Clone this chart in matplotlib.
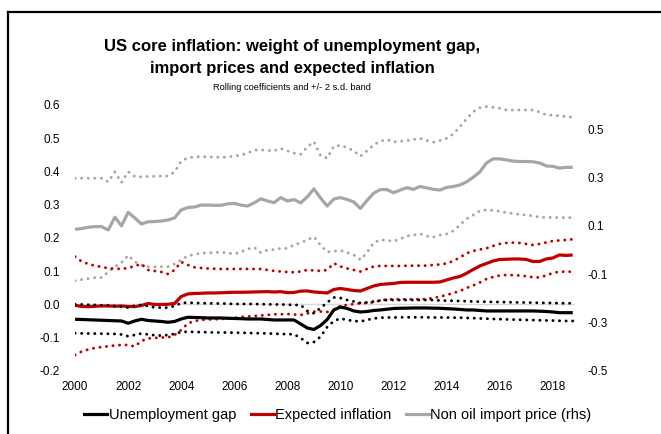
import numpy as np
import pandas as pd
import matplotlib
matplotlib.use("Agg")
import matplotlib.pyplot as plt
from matplotlib.lines import Line2D

plt.rcParams["font.family"] = ["Liberation Sans", "DejaVu Sans"]

# Quarterly observations, 2000Q1 - 2018Q4
quarters = pd.period_range("2000Q1", "2018Q4", freq="Q")
dates = quarters.year + (quarters.quarter - 1) / 4

# Unemployment gap coefficient and +/- 2 s.d. band (lhs)
unemp = [-0.0445, -0.0451, -0.0460, -0.0466, -0.0475, -0.0481, -0.0490, -0.0496, -0.0565, -0.0496,
         -0.0445, -0.0481, -0.0496, -0.0511, -0.0535, -0.0511, -0.0436, -0.0385, -0.0391, -0.0397,
         -0.0406, -0.0406, -0.0406, -0.0415, -0.0421, -0.0427, -0.0436, -0.0436, -0.0436, -0.0451,
         -0.0466, -0.0466, -0.0466, -0.0466, -0.0586, -0.0707, -0.0752, -0.0632, -0.0451, -0.0165,
         -0.0075, -0.0120, -0.0195, -0.0226, -0.0211, -0.0180, -0.0165, -0.0144, -0.0120, -0.0114,
         -0.0111, -0.0105, -0.0105, -0.0105, -0.0111, -0.0114, -0.0126, -0.0135, -0.0150, -0.0165,
         -0.0165, -0.0180, -0.0195, -0.0195, -0.0195, -0.0195, -0.0195, -0.0195, -0.0195, -0.0195,
         -0.0202, -0.0211, -0.0226, -0.0247, -0.0247, -0.0247]
unemp_hi = [0.0006, 0.0000, -0.0009, -0.0015, -0.0024, -0.0030, -0.0045, -0.0060, -0.0096, -0.0030,
            -0.0015, -0.0045, -0.0090, -0.0096, -0.0096, -0.0045, 0.0045, 0.0054, 0.0045, 0.0039,
            0.0036, 0.0030, 0.0030, 0.0024, 0.0015, 0.0015, 0.0015, 0.0015, 0.0009, 0.0006,
            0.0000, 0.0000, -0.0006, -0.0015, -0.0015, -0.0195, -0.0265, -0.0105, 0.0060, 0.0211,
            0.0195, 0.0135, 0.0090, 0.0045, 0.0060, 0.0090, 0.0120, 0.0135, 0.0135, 0.0135,
            0.0135, 0.0135, 0.0135, 0.0135, 0.0135, 0.0120, 0.0114, 0.0111, 0.0105, 0.0099,
            0.0090, 0.0084, 0.0081, 0.0075, 0.0075, 0.0069, 0.0066, 0.0060, 0.0060, 0.0054,
            0.0051, 0.0045, 0.0045, 0.0039, 0.0036, 0.0036]
unemp_lo = [-0.0866, -0.0869, -0.0872, -0.0875, -0.0878, -0.0881, -0.0887, -0.0902, -0.0956, -0.0917,
            -0.0872, -0.0902, -0.0926, -0.0938, -0.0917, -0.0887, -0.0827, -0.0818, -0.0827, -0.0833,
            -0.0836, -0.0842, -0.0842, -0.0845, -0.0848, -0.0851, -0.0857, -0.0863, -0.0866, -0.0872,
            -0.0878, -0.0887, -0.0893, -0.0896, -0.1008, -0.1158, -0.1128, -0.0968, -0.0677, -0.0496,
            -0.0421, -0.0466, -0.0496, -0.0511, -0.0466, -0.0421, -0.0397, -0.0391, -0.0391, -0.0388,
            -0.0385, -0.0385, -0.0385, -0.0388, -0.0391, -0.0391, -0.0394, -0.0397, -0.0397, -0.0406,
            -0.0412, -0.0421, -0.0427, -0.0436, -0.0442, -0.0448, -0.0454, -0.0460, -0.0466, -0.0469,
            -0.0475, -0.0481, -0.0484, -0.0490, -0.0496, -0.0496]

# Expected inflation coefficient and band (lhs)
expinf = [-0.0024, -0.0060, -0.0066, -0.0054, -0.0045, -0.0045, -0.0054, -0.0045, -0.0060, -0.0066,
          -0.0030, 0.0030, 0.0000, 0.0000, 0.0006, 0.0030, 0.0240, 0.0316, 0.0330, 0.0337,
          0.0346, 0.0346, 0.0352, 0.0361, 0.0367, 0.0367, 0.0370, 0.0376, 0.0382, 0.0385,
          0.0376, 0.0385, 0.0355, 0.0361, 0.0400, 0.0406, 0.0376, 0.0361, 0.0346, 0.0451,
          0.0481, 0.0451, 0.0421, 0.0406, 0.0481, 0.0556, 0.0602, 0.0617, 0.0632, 0.0662,
          0.0668, 0.0668, 0.0668, 0.0668, 0.0668, 0.0677, 0.0737, 0.0797, 0.0842, 0.0938,
          0.1053, 0.1158, 0.1233, 0.1308, 0.1353, 0.1359, 0.1368, 0.1368, 0.1353, 0.1293,
          0.1293, 0.1368, 0.1398, 0.1489, 0.1474, 0.1489]
expinf_hi = [0.1438, 0.1293, 0.1218, 0.1167, 0.1128, 0.1089, 0.1077, 0.1068, 0.1098, 0.1158,
             0.1218, 0.1038, 0.1008, 0.0977, 0.0917, 0.1038, 0.1278, 0.1188, 0.1119, 0.1098,
             0.1083, 0.1074, 0.1068, 0.1068, 0.1068, 0.1068, 0.1068, 0.1068, 0.1068, 0.1038,
             0.1008, 0.0992, 0.0977, 0.0968, 0.0992, 0.1038, 0.1023, 0.1008, 0.1038, 0.1239,
             0.1143, 0.1083, 0.1038, 0.0992, 0.1068, 0.1143, 0.1158, 0.1158, 0.1158, 0.1158,
             0.1164, 0.1167, 0.1167, 0.1167, 0.1188, 0.1203, 0.1233, 0.1308, 0.1414, 0.1540,
             0.1609, 0.1654, 0.1690, 0.1759, 0.1820, 0.1850, 0.1859, 0.1850, 0.1820, 0.1789,
             0.1820, 0.1865, 0.1910, 0.1925, 0.1940, 0.1961]
expinf_lo = [-0.1519, -0.1414, -0.1353, -0.1308, -0.1278, -0.1257, -0.1233, -0.1218, -0.1218, -0.1263,
             -0.1098, -0.1023, -0.1008, -0.0992, -0.0992, -0.0917, -0.0767, -0.0571, -0.0496, -0.0466,
             -0.0451, -0.0445, -0.0436, -0.0421, -0.0406, -0.0376, -0.0361, -0.0346, -0.0331, -0.0316,
             -0.0295, -0.0295, -0.0286, -0.0301, -0.0316, -0.0271, -0.0217, -0.0211, -0.0226, -0.0165,
             -0.0045, -0.0015, 0.0015, 0.0036, 0.0045, 0.0066, 0.0120, 0.0150, 0.0156, 0.0156,
             0.0156, 0.0156, 0.0156, 0.0165, 0.0195, 0.0235, 0.0286, 0.0346, 0.0406, 0.0496,
             0.0571, 0.0662, 0.0767, 0.0827, 0.0872, 0.0887, 0.0881, 0.0872, 0.0848, 0.0818,
             0.0812, 0.0872, 0.0947, 0.0986, 0.0986, 0.0986]

# Non oil import price coefficient and band (rhs)
imp = [0.086, 0.089, 0.094, 0.097, 0.097, 0.083, 0.136, 0.100, 0.156, 0.133,
       0.108, 0.117, 0.118, 0.120, 0.124, 0.133, 0.166, 0.176, 0.178, 0.186,
       0.186, 0.185, 0.185, 0.191, 0.193, 0.186, 0.182, 0.195, 0.212, 0.203,
       0.196, 0.217, 0.203, 0.209, 0.195, 0.220, 0.253, 0.215, 0.182, 0.211,
       0.217, 0.209, 0.199, 0.172, 0.205, 0.235, 0.250, 0.250, 0.237, 0.248,
       0.258, 0.251, 0.263, 0.257, 0.251, 0.248, 0.259, 0.263, 0.269, 0.282,
       0.301, 0.323, 0.360, 0.377, 0.377, 0.373, 0.368, 0.366, 0.366, 0.365,
       0.360, 0.348, 0.346, 0.339, 0.342, 0.342]
imp_hi = [0.297, 0.297, 0.297, 0.297, 0.297, 0.282, 0.323, 0.279, 0.324, 0.304,
          0.303, 0.304, 0.305, 0.306, 0.306, 0.323, 0.368, 0.381, 0.385, 0.386,
          0.385, 0.384, 0.384, 0.385, 0.389, 0.392, 0.401, 0.413, 0.414, 0.412,
          0.411, 0.420, 0.410, 0.401, 0.396, 0.426, 0.448, 0.390, 0.380, 0.430,
          0.432, 0.424, 0.410, 0.388, 0.410, 0.435, 0.450, 0.457, 0.447, 0.450,
          0.452, 0.457, 0.462, 0.453, 0.446, 0.453, 0.462, 0.480, 0.510, 0.542,
          0.572, 0.588, 0.593, 0.590, 0.586, 0.579, 0.579, 0.579, 0.579, 0.579,
          0.571, 0.559, 0.557, 0.555, 0.552, 0.549]
imp_lo = [-0.127, -0.122, -0.118, -0.114, -0.114, -0.091, -0.069, -0.052, -0.022, -0.048,
          -0.062, -0.069, -0.069, -0.069, -0.069, -0.058, -0.041, -0.024, -0.018, -0.013,
          -0.012, -0.010, -0.009, -0.012, -0.016, -0.008, 0.004, 0.011, -0.011, 0.000,
          0.002, 0.007, 0.007, 0.021, 0.030, 0.042, 0.055, 0.020, -0.008, -0.005,
          -0.002, -0.010, -0.020, -0.040, -0.010, 0.030, 0.042, 0.040, 0.036, 0.046,
          0.058, 0.062, 0.067, 0.058, 0.053, 0.062, 0.067, 0.079, 0.104, 0.129,
          0.145, 0.162, 0.166, 0.164, 0.160, 0.155, 0.151, 0.147, 0.145, 0.141,
          0.136, 0.135, 0.135, 0.134, 0.134, 0.134]

BLACK = "#000000"
RED = "#C00000"
GREY = "#A6A6A6"
dots = (0, (0.05, 2.2))

fig = plt.figure(figsize=(6.61, 4.34), dpi=100)
ax = fig.add_axes([0.1135, 0.1452, 0.757, 0.613])
ax2 = ax.twinx()

ax.axhline(0, color="#D9D9D9", lw=1, zorder=0)

# rhs series first so the lhs lines sit on top
ax2.plot(dates, imp_hi, color=GREY, lw=2.1, ls=dots, dash_capstyle="round")
ax2.plot(dates, imp_lo, color=GREY, lw=2.1, ls=dots, dash_capstyle="round")
ax2.plot(dates, imp, color=GREY, lw=2.3, solid_capstyle="butt")

ax.plot(dates, expinf_hi, color=RED, lw=2.1, ls=dots, dash_capstyle="round")
ax.plot(dates, expinf_lo, color=RED, lw=2.1, ls=dots, dash_capstyle="round")
ax.plot(dates, expinf, color=RED, lw=2.3, solid_capstyle="butt")
ax.plot(dates, unemp_hi, color=BLACK, lw=2.1, ls=dots, dash_capstyle="round")
ax.plot(dates, unemp_lo, color=BLACK, lw=2.1, ls=dots, dash_capstyle="round")
ax.plot(dates, unemp, color=BLACK, lw=2.3, solid_capstyle="butt")
ax.set_zorder(ax2.get_zorder() + 1)
ax.patch.set_visible(False)

ax.set_xlim(2000, 2018.85)
ax.set_ylim(-0.2, 0.6)
ax2.set_ylim(-0.5, 0.6)
ax.set_xticks(range(2000, 2019, 2))
ax.set_yticks(np.arange(-0.2, 0.61, 0.1))
ax2.set_yticks([-0.5, -0.3, -0.1, 0.1, 0.3, 0.5])
ax.yaxis.set_major_formatter(matplotlib.ticker.FormatStrFormatter("%.1f"))
ax2.yaxis.set_major_formatter(matplotlib.ticker.FormatStrFormatter("%.1f"))

for a in (ax, ax2):
    for s in a.spines.values():
        s.set_visible(False)
ax.tick_params(axis="y", length=0, pad=11, labelsize=8.5)
ax.tick_params(axis="x", length=0, pad=7, labelsize=8.5)
ax2.tick_params(axis="y", length=0, pad=9, labelsize=8.5)

fig.text(0.442, 1 - 46 / 434, "US core inflation: weight of unemployment gap,",
         ha="center", va="center", fontsize=12, fontweight="bold")
fig.text(0.442, 1 - 68 / 434, "import prices and expected inflation",
         ha="center", va="center", fontsize=12, fontweight="bold")
fig.text(0.442, 1 - 87 / 434, "Rolling coefficients and +/- 2 s.d. band", ha="center", va="center",
         fontsize=6.7)

handles = [Line2D([], [], color=BLACK, lw=2.3),
           Line2D([], [], color=RED, lw=2.3),
           Line2D([], [], color=GREY, lw=2.3)]
fig.legend(handles, ["Unemployment gap", "Expected inflation", "Non oil import price (rhs)"],
           loc="center", bbox_to_anchor=(0.511, 0.044), ncol=3, frameon=False, fontsize=10.5,
           handlelength=1.6, handletextpad=0.08, columnspacing=1.0)

# frame lines along the top and left edges
fig.add_artist(Line2D([8 / 661, 8 / 661], [0, 1 - 12 / 434], color="black", lw=1.6))
fig.add_artist(Line2D([8 / 661, 1], [1 - 12 / 434, 1 - 12 / 434], color="black", lw=1.6))

fig.savefig("out.png", dpi=100)
